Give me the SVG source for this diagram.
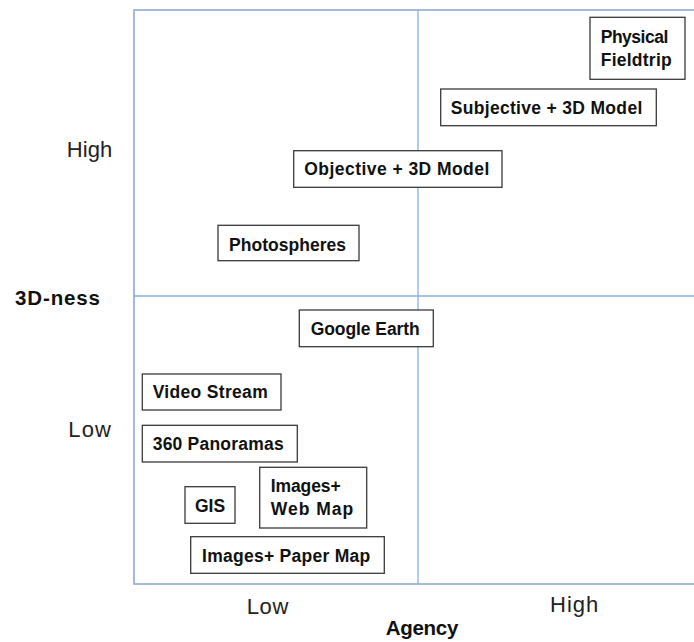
<svg xmlns="http://www.w3.org/2000/svg" width="694" height="642" viewBox="0 0 694 642">
<style>
.frame{fill:none;stroke:#8eaad2;stroke-width:1.6}
.mid{stroke:#86b2df;stroke-width:1.3}
.box{fill:#fff;stroke:#3a3a3a;stroke-width:1.3}
.t{font-family:"Liberation Sans",Arial,sans-serif;font-weight:bold;font-size:17.5px;fill:#111}
.ax{font-family:"Liberation Sans",Arial,sans-serif;font-size:22px;fill:#222}
.axb{font-family:"Liberation Sans",Arial,sans-serif;font-weight:bold;font-size:20.5px;fill:#111}
</style>
<rect width="694" height="642" fill="#fff"/>
<g id="axes">
<rect class="frame" x="134" y="10" width="564" height="574"/>
<line class="mid" x1="418" y1="10" x2="418" y2="584"/>
<line class="mid" x1="134" y1="296" x2="694" y2="296"/>
<text class="ax" x="66.7" y="157" textLength="45.6">High</text>
<text class="axb" x="15" y="304.5" textLength="85">3D-ness</text>
<text class="ax" x="68.3" y="437" textLength="42.7">Low</text>
<text class="ax" x="246.7" y="613.5" textLength="41.6">Low</text>
<text class="ax" x="550" y="612" textLength="48.3">High</text>
<text class="axb" x="385.7" y="635" textLength="72.6">Agency</text>
</g>
<g id="physical-fieldtrip">
<rect class="box" x="590" y="17.3" width="95" height="62"/>
<text class="t" x="600.7" y="42.7" textLength="67.6">Physical</text>
<text class="t" x="600.7" y="66" textLength="71">Fieldtrip</text>
</g>
<g id="subjective-3d-model">
<rect class="box" x="440.7" y="89" width="215.6" height="36.7"/>
<text class="t" x="450.7" y="114" textLength="191.6">Subjective + 3D Model</text>
</g>
<g id="objective-3d-model">
<rect class="box" x="293.7" y="150.7" width="208.3" height="36.6"/>
<text class="t" x="304.3" y="175" textLength="185">Objective + 3D Model</text>
</g>
<g id="photospheres">
<rect class="box" x="218" y="225.3" width="141" height="35.4"/>
<text class="t" x="229" y="250.5" textLength="117">Photospheres</text>
</g>
<g id="google-earth">
<rect class="box" x="299.3" y="310" width="134" height="36.7"/>
<text class="t" x="310.7" y="334.5" textLength="109">Google Earth</text>
</g>
<g id="video-stream">
<rect class="box" x="142.3" y="374" width="138.7" height="36"/>
<text class="t" x="152.7" y="398.3" textLength="115">Video Stream</text>
</g>
<g id="panoramas-360">
<rect class="box" x="142.3" y="425.3" width="155" height="36.7"/>
<text class="t" x="152.7" y="450" textLength="131">360 Panoramas</text>
</g>
<g id="gis">
<rect class="box" x="185" y="486.7" width="50" height="36.6"/>
<text class="t" x="210" y="511.7" text-anchor="middle">GIS</text>
</g>
<g id="images-web-map">
<rect class="box" x="259.7" y="467.3" width="107" height="60.7"/>
<text class="t" x="270.7" y="491.7" textLength="70">Images+</text>
<text class="t" x="270.7" y="515" textLength="82.6">Web Map</text>
</g>
<g id="images-paper-map">
<rect class="box" x="190.7" y="536.7" width="193.6" height="36.6"/>
<text class="t" x="202" y="561.7" textLength="168.3">Images+ Paper Map</text>
</g>
<g id="connectors"></g>
</svg>
